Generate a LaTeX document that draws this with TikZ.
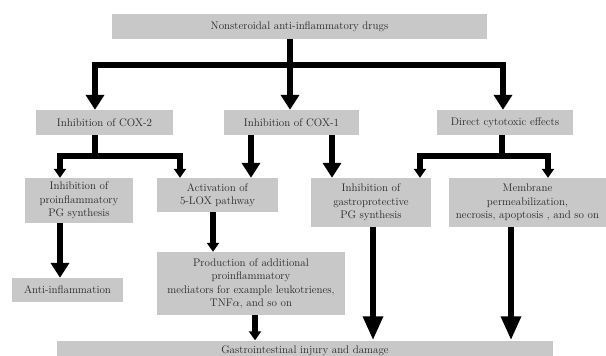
\documentclass[tikz,border=0pt]{standalone}
\usetikzlibrary{arrows.meta}
\definecolor{boxgray}{RGB}{200,200,200}
\definecolor{textgray}{RGB}{40,40,40}

\begin{document}
\begin{tikzpicture}[x=1pt, y=-1pt,
    box/.style={fill=boxgray, text=textgray, inner sep=1pt, align=center,
        font=\fontsize{11}{13.5}\selectfont},
    stem/.style={line width=6.5pt},
    link/.style={stem, -{Triangle[width=18pt,length=15pt]}},
    split/.style={stem, -{Triangle[width=12pt,length=9pt]}},
    tall/.style={stem, -{Triangle[width=19pt,length=24pt]}}
]
    \useasboundingbox (0,0) rectangle (606,356);
    % boxes
    \node[box, minimum width=375pt, minimum height=25pt] (nsaid) at (299.5,26.5) {Nonsteroidal anti-inflammatory drugs};
    \node[box, minimum width=137pt, minimum height=25pt] (cox2) at (104.5,122.5) {Inhibition of COX-2};
    \node[box, minimum width=135pt, minimum height=25pt] (cox1) at (291.5,122.5) {Inhibition of COX-1};
    \node[box, minimum width=136pt, minimum height=25pt] (cyto) at (505,122.5) {Direct cytotoxic effects};
    \node[box, minimum width=108pt, minimum height=45pt] (proinf) at (79,200.5) {Inhibition of\\proinflammatory\\PG synthesis};
    \node[box, minimum width=121pt, minimum height=34pt] (lox) at (217.5,195) {Activation of\\5-LOX pathway};
    \node[box, minimum width=120pt, minimum height=49pt] (gastro) at (371,202.5) {Inhibition of\\gastroprotective\\PG synthesis};
    \node[box, minimum width=157pt, minimum height=49pt] (membrane) at (527.5,202.5) {Membrane\\permeabilization,\\necrosis, apoptosis , and so on};
    \node[box, minimum width=111pt, minimum height=24pt] (anti) at (67.5,290) {Anti-inflammation};
    \node[box, minimum width=188pt, minimum height=63pt] (prod) at (251,283.5) {Production of additional\\proinflammatory\\mediators for example leukotrienes,\\TNF$\alpha$, and so on};
    \node[box, minimum width=496pt, minimum height=20pt] (gi) at (305,350.5) {Gastrointestinal injury and damage};
    % first split
    \coordinate (top) at (290,65);
    \draw[stem] (nsaid.south -| top) -- (top);
    \draw[link] (top) -| (cox2.north -| 95,0);
    \draw[link] (top) -- (cox1.north -| top);
    \draw[link] (top) -| (cyto.north -| 503,0);
    % second level
    \coordinate (c2) at (95,156);
    \draw[stem] (cox2.south -| c2) -- (c2);
    \draw[split] (c2) -| (proinf.north -| 60,0);
    \draw[split] (c2) -| (lox.north -| 180,0);
    \draw[link] (cox1.south -| 251,0) -- (lox.north -| 251,0);
    \draw[link] (cox1.south -| 332,0) -- (gastro.north -| 332,0);
    \coordinate (c3) at (502,156);
    \draw[stem] (cyto.south -| c3) -- (c3);
    \draw[split] (c3) -| (gastro.north -| 420,0);
    \draw[split] (c3) -| (membrane.north -| 548,0);
    % down to the bottom
    \draw[link] (proinf.south -| 60,0) -- (anti.north -| 60,0);
    \draw[split] (lox.south -| 213,0) -- (prod.north -| 213,0);
    \draw[split] (prod.south -| 255,0) -- (gi.north -| 255,0);
    \draw[tall] (gastro.south -| 373,0) -- (gi.north -| 373,0);
    \draw[tall] (membrane.south -| 511,0) -- (gi.north -| 511,0);
\end{tikzpicture}
\end{document}
